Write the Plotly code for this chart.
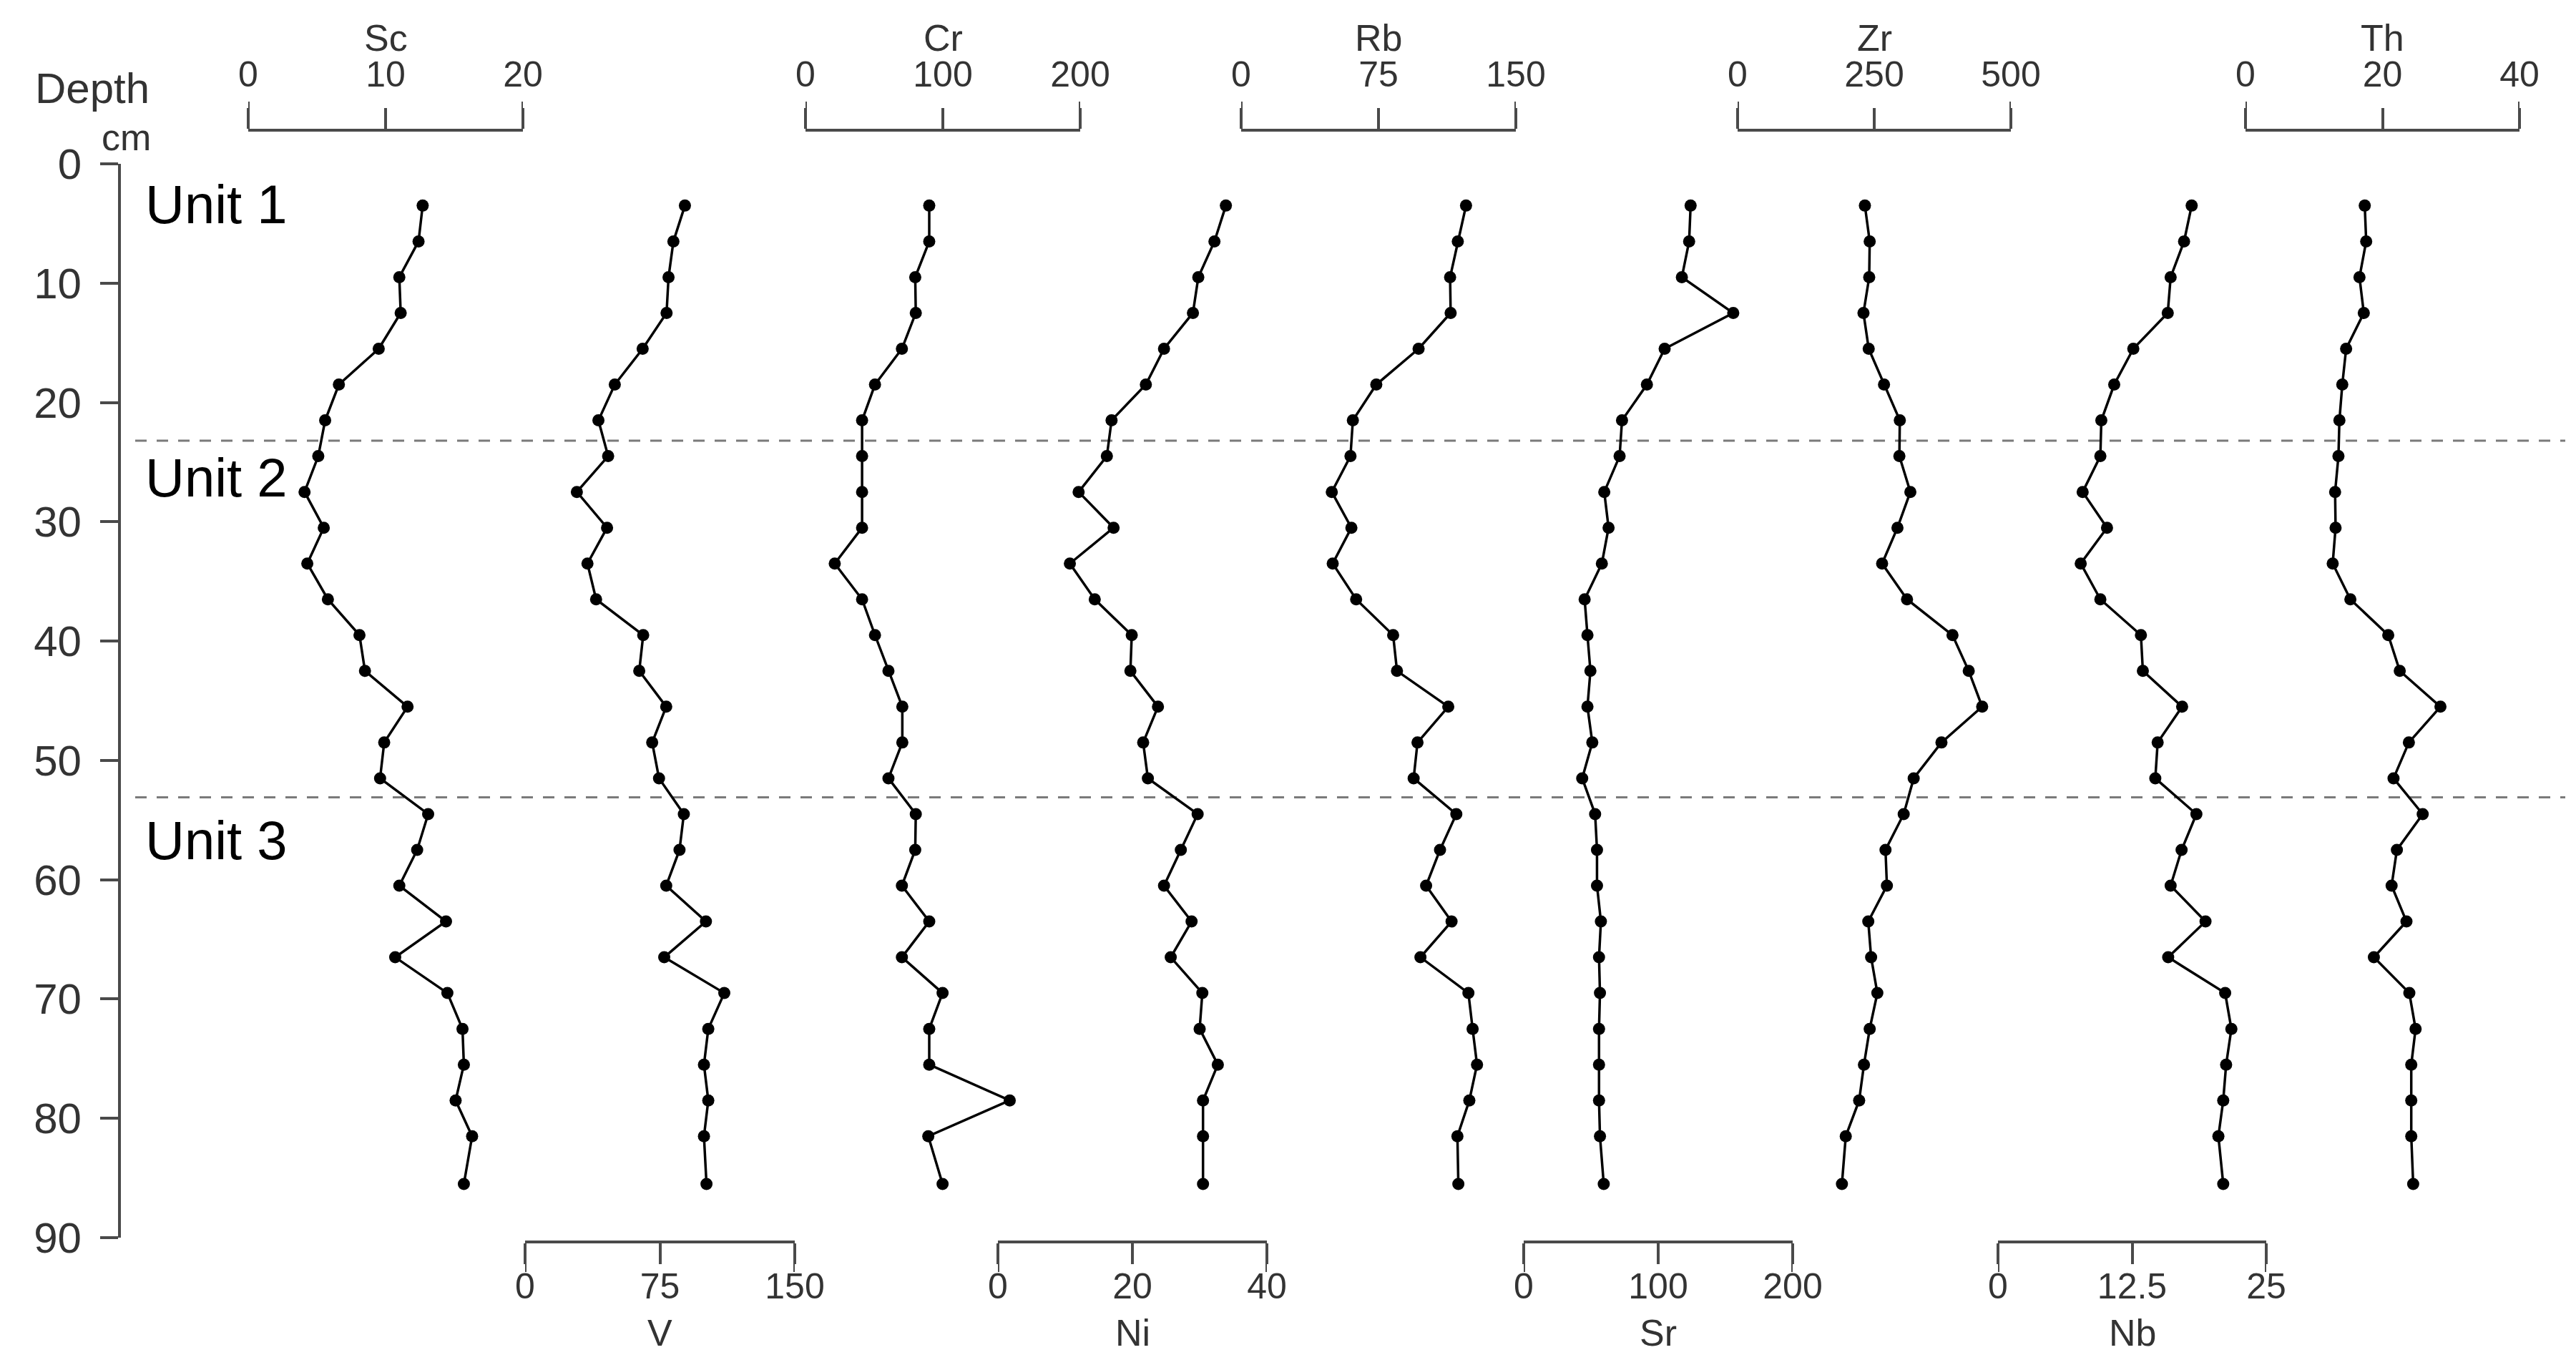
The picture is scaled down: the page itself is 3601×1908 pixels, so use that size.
import plotly.graph_objects as go

W, H = 3601, 1908

# sample depths (cm)
depth = [3.5, 6.5, 9.5, 12.5, 15.5, 18.5, 21.5, 24.5, 27.5, 30.5, 33.5, 36.5, 39.5, 42.5,
         45.5, 48.5, 51.5, 54.5, 57.5, 60.5, 63.5, 66.5, 69.5, 72.5, 75.5, 78.5, 81.5, 85.5]

# element concentrations
sc = [12.7, 12.4, 11.0, 11.1, 9.5, 6.6, 5.6, 5.1, 4.1, 5.5, 4.3, 5.8, 8.1, 8.5,
      11.6, 9.9, 9.6, 13.1, 12.3, 11.0, 14.4, 10.7, 14.5, 15.6, 15.7, 15.1, 16.3, 15.7]
v = [88.9, 82.5, 79.8, 78.7, 65.4, 49.9, 40.8, 46.2, 28.8, 45.6, 34.7, 39.5, 65.7, 63.5,
     78.5, 70.7, 74.5, 88.3, 85.9, 78.5, 100.6, 77.4, 110.8, 101.9, 99.5, 101.9, 99.5, 100.9]
cr = [90.1, 90.1, 79.9, 80.3, 70.2, 50.6, 41.2, 41.2, 41.2, 41.2, 21.3, 41.2, 50.6, 60.4,
      70.5, 70.5, 60.4, 80.3, 79.9, 70.2, 90.1, 70.2, 99.8, 90.1, 90.1, 148.7, 89.4, 99.8]
ni = [33.9, 32.2, 29.8, 29.0, 24.7, 22.0, 16.9, 16.2, 12.0, 17.2, 10.7, 14.4, 19.9, 19.7,
      23.8, 21.6, 22.3, 29.7, 27.2, 24.7, 28.8, 25.7, 30.4, 30.0, 32.7, 30.5, 30.5, 30.5]
rb = [122.8, 118.3, 114.1, 114.4, 96.9, 73.8, 61.0, 59.7, 49.5, 60.2, 50.0, 62.8, 83.0, 85.1,
      113.1, 96.3, 94.2, 117.5, 108.6, 101.0, 114.9, 97.9, 124.1, 126.4, 128.8, 124.6, 118.1, 118.6]
sr = [124.1, 123.0, 117.6, 155.8, 104.8, 91.6, 73.1, 71.3, 59.9, 63.1, 58.1, 45.3, 47.4, 49.6,
      47.4, 51.0, 43.5, 53.1, 54.5, 54.5, 57.4, 56.0, 56.7, 56.0, 56.0, 56.0, 56.7, 59.5]
zr = [232.9, 241.7, 240.8, 230.3, 239.9, 267.9, 296.8, 296.0, 316.1, 292.5, 264.4, 310.0, 393.2, 422.9,
      447.5, 373.0, 322.2, 303.9, 270.6, 273.2, 239.1, 244.3, 255.7, 241.7, 231.2, 222.4, 197.9, 190.9]
nb = [18.05, 17.34, 16.09, 15.82, 12.61, 10.83, 9.63, 9.54, 7.89, 10.16, 7.71, 9.54, 13.32, 13.50,
      17.16, 14.88, 14.66, 18.49, 17.11, 16.09, 19.34, 15.86, 21.17, 21.75, 21.26, 20.99, 20.54, 20.99]
th = [17.41, 17.62, 16.64, 17.27, 14.69, 14.13, 13.71, 13.57, 13.08, 13.15, 12.73, 15.31, 20.84, 22.52,
      28.46, 23.85, 21.61, 25.87, 22.10, 21.33, 23.50, 18.74, 23.92, 24.83, 24.20, 24.20, 24.20, 24.48]

elements = ["Sc", "V", "Cr", "Ni", "Rb", "Sr", "Zr", "Nb", "Th"]
series = [sc, v, cr, ni, rb, sr, zr, nb, th]
scale_ticks = [[0, 10, 20], [0, 75, 150], [0, 100, 200], [0, 20, 40], [0, 75, 150],
               [0, 100, 200], [0, 250, 500], [0, 12.5, 25], [0, 20, 40]]
depth_ticks = [0, 10, 20, 30, 40, 50, 60, 70, 80, 90]
unit_labels = ["Unit 1", "Unit 2", "Unit 3"]
unit_depths = [3.4, 26.3, 56.7]
unit_bounds = [23.2, 53.1]

# layout (pixels of the 3601x1908 page)
panel_px = [(339, 723), (726, 1103), (1118, 1502), (1387, 1763), (1727, 2111),
            (2122, 2498), (2421, 2803), (2785, 3160), (3131, 3514)]
panel_side = ["top", "bottom", "top", "bottom", "top", "bottom", "top", "bottom", "top"]
TOP_LINE, BOT_LINE = 174, 1728
DEPTH_TOP, DEPTH_BOT, DEPTH_X = 221, 1722, 159

AX = "#4a4a4a"
TXT = "#333333"
FONT = "Liberation Sans, Arial, sans-serif"


def px_x(p):
    return p / W


def px_y(p):
    return 1 - p / H


fig = go.Figure()
shapes, annotations = [], []

for i, (name, vals) in enumerate(zip(elements, series)):
    ax_id = "x" if i == 0 else f"x{i+1}"
    ax_key = "xaxis" if i == 0 else f"xaxis{i+1}"
    ticks = scale_ticks[i]
    side = panel_side[i]
    x0, x1 = panel_px[i]
    line_y = TOP_LINE if side == "top" else BOT_LINE

    fig.add_trace(go.Scatter(x=vals, y=depth, xaxis=ax_id, yaxis="y", mode="lines+markers",
                             line=dict(color="black", width=3.5),
                             marker=dict(color="black", size=17),
                             name=name, showlegend=False, cliponaxis=False))

    fig.update_layout(**{ax_key: dict(
        domain=[px_x(x0), px_x(x1)], range=[ticks[0], ticks[-1]],
        anchor="free", position=px_y(line_y), side=side,
        showline=True, linecolor=AX, linewidth=4, showgrid=False, zeroline=False,
        ticks="outside", ticklen=29, tickwidth=4, tickcolor=AX,
        tickvals=ticks, ticktext=[f"{t:g}" for t in ticks],
        tickfont=dict(size=50, color=TXT, family=FONT),
        ticklabelstandoff=10 if side == "top" else -12,
        fixedrange=True)})

    # longer end ticks of the scale bar
    for t in (ticks[0], ticks[-1]):
        shapes.append(dict(type="line", xref=ax_id, yref="paper", ysizemode="pixel",
                           yanchor=px_y(line_y), x0=t, x1=t, y0=0,
                           y1=40 if side == "top" else -42,
                           line=dict(color=AX, width=4)))

    # element name
    title_y = 45 if side == "top" else 1855
    annotations.append(dict(text=name, xref="paper", yref="paper",
                            x=px_x((x0 + x1) / 2), y=px_y(title_y),
                            xanchor="center", yanchor="middle", showarrow=False,
                            font=dict(size=52, color=TXT, family=FONT)))

# unit boundaries
for d in unit_bounds:
    shapes.append(dict(type="line", xref="paper", yref="y", x0=px_x(181), x1=px_x(3578),
                       y0=d, y1=d, layer="below",
                       line=dict(color="#7a7a7a", width=3, dash="16px,14px")))

for lab, d in zip(unit_labels, unit_depths):
    annotations.append(dict(text=lab, xref="paper", yref="y", x=px_x(193), y=d,
                            xanchor="left", yanchor="middle", showarrow=False,
                            font=dict(size=76, color="black", family=FONT)))

annotations.append(dict(text="Depth", xref="paper", yref="paper", x=px_x(203), y=px_y(116),
                        xanchor="right", yanchor="middle", showarrow=False,
                        font=dict(size=60, color=TXT, family=FONT)))
annotations.append(dict(text="cm", xref="paper", yref="paper", x=px_x(205), y=px_y(184),
                        xanchor="right", yanchor="middle", showarrow=False,
                        font=dict(size=52, color=TXT, family=FONT)))

fig.update_layout(
    width=W, height=H, autosize=False,
    margin=dict(l=0, r=0, t=0, b=0),
    template="none",
    paper_bgcolor="white", plot_bgcolor="rgba(0,0,0,0)",
    font=dict(family=FONT, color=TXT),
    showlegend=False,
    yaxis=dict(domain=[px_y(DEPTH_BOT), px_y(DEPTH_TOP)], range=[90, 0],
               anchor="free", position=px_x(DEPTH_X), side="left",
               showline=True, linecolor=AX, linewidth=4, showgrid=False, zeroline=False,
               ticks="outside", ticklen=25, tickwidth=4, tickcolor=AX,
               tickvals=depth_ticks, tickfont=dict(size=60, color=TXT, family=FONT),
               ticklabelstandoff=14, fixedrange=True),
    shapes=shapes,
    annotations=annotations,
)

fig.write_html("out.html")
